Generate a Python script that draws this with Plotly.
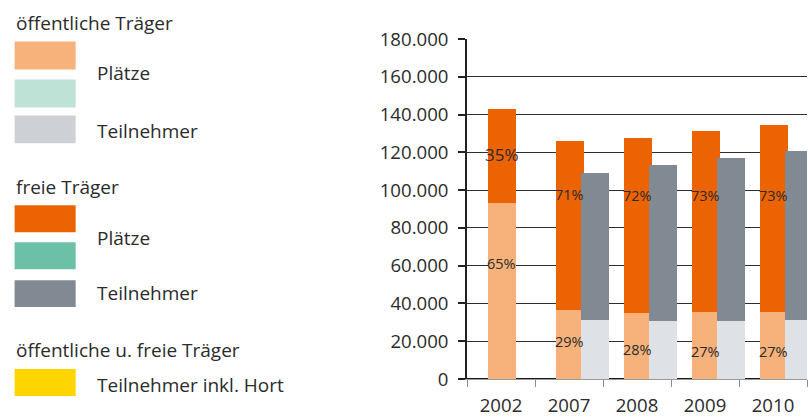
import plotly.graph_objects as go

# ---------------- data ----------------
years = ["2002", "2007", "2008", "2009", "2010"]
oeff_plaetze = [93000, 36500, 35100, 35600, 35600]      # öffentliche Träger – Plätze
frei_plaetze = [50000, 89500, 92700, 95900, 99000]      # freie Träger – Plätze
oeff_teilnehmer = [None, 31400, 30900, 30900, 31400]    # öffentliche Träger – Teilnehmer
frei_teilnehmer = [None, 77800, 82600, 86300, 89500]    # freie Träger – Teilnehmer
pct_oeff = ["65%", "29%", "28%", "27%", "27%"]
pct_frei = ["35%", "71%", "72%", "73%", "73%"]

# label heights (value axis) for the percentage texts
label_y_oeff = [61400, 19700, 15500, 14300, 14300]
label_y_frei = [119000, 97600, 96900, 96900, 96900]

# ---------------- style ----------------
FONT = "Open Sans"
TXT = "#2b2b2b"
C_OEFF_PL = "#F7B27B"
C_OEFF_PL_LEG = "#F7B27B"
C_OEFF_GR_PL = "#BFE2D6"
C_OEFF_TN = "#DEE2E6"
C_OEFF_TN_LEG = "#CDD1D5"
C_FREI_PL = "#EC6304"
C_FREI_GR_PL = "#6CC0A8"
C_FREI_TN = "#818A92"
C_HORT = "#FFD500"

W, H = 808, 417
L, R, T, B = 467, 1.3, 38.5, 38
PW, PH = W - L - R, H - T - B

BAR_W = 0.41
OFF_PL = -0.195
OFF_TN = 0.172

fig = go.Figure()

fig.add_trace(go.Bar(x=years, y=oeff_plaetze, base=0, width=BAR_W, offset=OFF_PL,
                     marker=dict(color=C_OEFF_PL, line=dict(width=0)), showlegend=False))
fig.add_trace(go.Bar(x=years, y=frei_plaetze, base=oeff_plaetze, width=BAR_W, offset=OFF_PL,
                     marker=dict(color=C_FREI_PL, line=dict(width=0)), showlegend=False))
fig.add_trace(go.Bar(x=years, y=oeff_teilnehmer, base=0, width=BAR_W, offset=OFF_TN,
                     marker=dict(color=C_OEFF_TN, line=dict(width=0)), showlegend=False))
fig.add_trace(go.Bar(x=years, y=frei_teilnehmer, base=[v if v is not None else 0 for v in oeff_teilnehmer],
                     width=BAR_W, offset=OFF_TN,
                     marker=dict(color=C_FREI_TN, line=dict(width=0)), showlegend=False))

annotations = []
for i, yr in enumerate(years):
    annotations.append(dict(x=i + 0.01, y=label_y_oeff[i], xref="x", yref="y", text=pct_oeff[i],
                            showarrow=False, font=dict(family=FONT, size=14.5, color=TXT)))
    annotations.append(dict(x=i + 0.01, y=label_y_frei[i], xref="x", yref="y", text=pct_frei[i],
                            showarrow=False,
                            font=dict(family=FONT, size=17 if i == 0 else 14.5, color=TXT)))


def px(xp):
    return (xp - L) / PW


def py(yp):
    return (H - B - yp) / PH


# manual legend
headers = [("öffentliche Träger", 22), ("freie Träger", 187), ("öffentliche u. freie Träger", 350)]
swatches = [(41, 69, C_OEFF_PL_LEG), (79, 107, C_OEFF_GR_PL), (115, 143, C_OEFF_TN_LEG),
            (205, 232, C_FREI_PL), (242, 269, C_FREI_GR_PL), (280, 307, C_FREI_TN),
            (369, 396, C_HORT)]
labels = [("Plätze", 73), ("Teilnehmer", 131), ("Plätze", 238), ("Teilnehmer", 293),
          ("Teilnehmer inkl. Hort", 385)]

shapes = []
for y0, y1, c in swatches:
    shapes.append(dict(type="rect", xref="paper", yref="paper", x0=px(15), x1=px(76),
                       y0=py(y1), y1=py(y0), fillcolor=c, line=dict(width=0), layer="above"))
for txt, yy in headers:
    annotations.append(dict(x=px(14), y=py(yy), xref="paper", yref="paper", text=txt,
                            xanchor="left", yanchor="middle", showarrow=False,
                            font=dict(family=FONT, size=19, color=TXT)))
for txt, yy in labels:
    annotations.append(dict(x=px(95), y=py(yy), xref="paper", yref="paper", text=txt,
                            xanchor="left", yanchor="middle", showarrow=False,
                            font=dict(family=FONT, size=19, color=TXT)))

fig.update_layout(
    width=W, height=H,
    margin=dict(l=L, r=R, t=T, b=B, pad=0, autoexpand=False),
    paper_bgcolor="white", plot_bgcolor="white",
    barmode="overlay", bargap=0,
    separators=",.",
    font=dict(family=FONT, color=TXT),
    annotations=annotations,
    shapes=shapes,
    showlegend=False,
)
fig.update_xaxes(
    type="category", range=[-0.5, 4.5], tickson="boundaries",
    ticks="outside", ticklen=7, tickwidth=1.3, tickcolor="#8a8a8a",
    showline=True, linecolor="#9a9a9a", linewidth=1.2,
    showgrid=False, tickfont=dict(family=FONT, size=18.6, color=TXT),
    ticklabelstandoff=10, fixedrange=True, automargin=False,
)
fig.update_yaxes(
    range=[0, 180000], dtick=20000, tickformat=",d",
    ticks="outside", ticklen=7, tickwidth=1.5, tickcolor="#222222",
    showline=True, linecolor="#222222", linewidth=1.7,
    showgrid=True, gridcolor="#2e2e2e", gridwidth=1.4,
    zeroline=True, zerolinecolor="#1a1a1a", zerolinewidth=2,
    tickfont=dict(family=FONT, size=18.6, color=TXT),
    ticklabelstandoff=6, fixedrange=True, automargin=False,
)

fig.write_html("out.html", config={"displayModeBar": False},
               post_script="document.body.style.margin='0';document.body.style.overflow='hidden';")
